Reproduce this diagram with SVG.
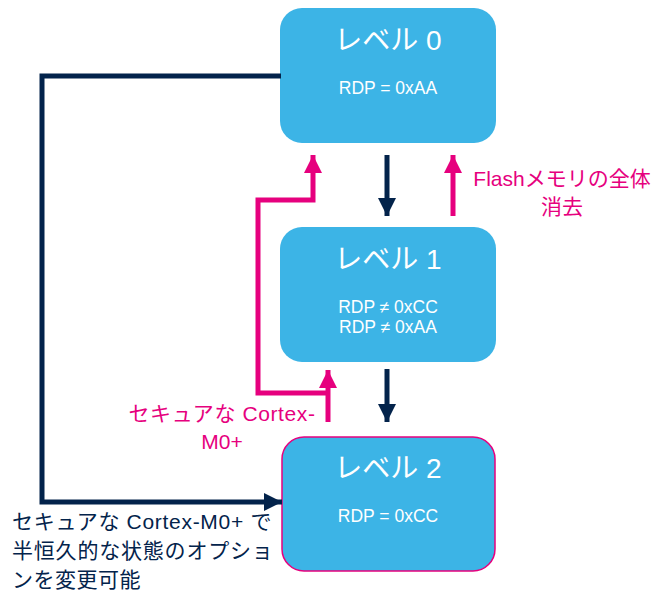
<svg xmlns="http://www.w3.org/2000/svg" width="667" height="590" viewBox="0 0 667 590">
<defs>
<style>
.box{fill:#3cb4e6;}
.t{font-family:"Liberation Sans","Noto Sans CJK JP",sans-serif;fill:#ffffff;text-anchor:middle;}
.title{font-size:28px;}
.sub{font-size:17.5px;}
.navy{stroke:#03234b;stroke-width:5;fill:none;}
.pink{stroke:#e6007e;stroke-width:5;fill:none;}
.lbl{font-family:"Liberation Sans","Noto Sans CJK JP",sans-serif;font-size:21px;}
</style>
<marker id="an" viewBox="0 0 10 10" refX="10" refY="5" markerWidth="3.6" markerHeight="3.6" orient="auto" markerUnits="strokeWidth">
<path d="M0,0 L10,5 L0,10 Z" fill="#03234b"/>
</marker>
<marker id="ap" viewBox="0 0 10 10" refX="10" refY="5" markerWidth="3.6" markerHeight="3.6" orient="auto" markerUnits="strokeWidth">
<path d="M0,0 L10,5 L0,10 Z" fill="#e6007e"/>
</marker>
</defs>
<g id="level0">
<rect class="box" x="280" y="8" width="216" height="135" rx="22"/>
<text class="t title" x="388" y="50">レベル 0</text>
<text class="t sub" x="388" y="94">RDP = 0xAA</text>
</g>
<g id="level1">
<rect class="box" x="280" y="227" width="216" height="135" rx="22"/>
<text class="t title" x="388" y="269">レベル 1</text>
<text class="t sub" x="388" y="313">RDP ≠ 0xCC</text>
<text class="t sub" x="388" y="333">RDP ≠ 0xAA</text>
</g>
<g id="level2">
<rect class="box" x="282" y="437" width="213" height="134" rx="22" stroke="#e6007e" stroke-width="1.5"/>
<text class="t title" x="388" y="478">レベル 2</text>
<text class="t sub" x="388" y="522">RDP = 0xCC</text>
</g>
<g id="connectors">
<line class="navy" x1="387" y1="155" x2="387" y2="216" marker-end="url(#an)"/>
<line class="navy" x1="387" y1="369" x2="387" y2="422" marker-end="url(#an)"/>
<line class="pink" x1="453" y1="216" x2="453" y2="155" marker-end="url(#ap)"/>
<line class="pink" x1="328" y1="422" x2="328" y2="370" marker-end="url(#ap)"/>
<polyline class="pink" points="328,393 258,393 258,200 313,200 313,155" marker-end="url(#ap)"/>
<polyline class="navy" points="281,76 42,76 42,502 282,502" marker-end="url(#an)"/>
</g>
<g id="labels">
<text class="lbl" fill="#e6007e" text-anchor="middle" x="562" y="186">Flashメモリの全体</text>
<text class="lbl" fill="#e6007e" text-anchor="middle" x="562" y="214">消去</text>
<text class="lbl" fill="#e6007e" text-anchor="middle" x="222" y="421" letter-spacing="0.6">セキュアな Cortex-</text>
<text class="lbl" fill="#e6007e" text-anchor="middle" x="222" y="449">M0+</text>
<text class="lbl" fill="#03234b" x="12" y="529" letter-spacing="0.7">セキュアな Cortex-M0+ で</text>
<text class="lbl" fill="#03234b" x="12" y="558" letter-spacing="0.8">半恒久的な状態のオプショ</text>
<text class="lbl" fill="#03234b" x="12" y="587" letter-spacing="0.5">ンを変更可能</text>
</g>
</svg>
